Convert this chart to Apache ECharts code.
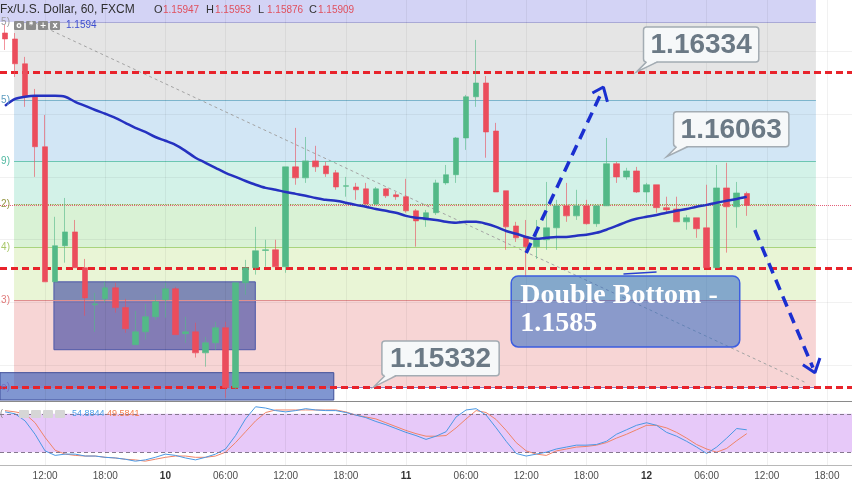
<!DOCTYPE html>
<html><head><meta charset="utf-8">
<script src="https://cdn.jsdelivr.net/npm/echarts/dist/echarts.min.js"></script>
<style>html,body{margin:0;padding:0;background:#fff}#c{width:852px;height:485px}</style>
</head><body><div id="c"></div>
<script>
// ---------- data ----------
const N_SLOTS = 85;                         // hourly slots on the time axis
const categories = Array.from({length: N_SLOTS}, (_, i) => String(i));
const timeLabels = ['12:00','18:00','10','06:00','12:00','18:00','11','06:00','12:00','18:00','12','06:00','12:00','18:00'];
const LABEL_FIRST = 4, LABEL_STEP = 6;

const open = [1.16458,1.16439,1.16360,1.16258,1.16096,1.15666,1.15781,1.15825,1.15711,1.15593,
1.15612,1.15647,1.15584,1.15466,1.15507,1.15555,1.15609,1.15644,1.15501,1.15507,
1.15440,1.15472,1.15520,1.15329,1.15663,1.15711,1.15766,1.15768,1.15714,1.16032,
1.15997,1.16051,1.16035,1.16013,1.15970,1.15968,1.15962,1.15914,1.15962,1.15943,
1.15937,1.15892,1.15863,1.15886,1.15981,1.16007,1.16124,1.16255,1.16299,1.16146,
1.15956,1.15844,1.15809,1.15778,1.15800,1.15838,1.15908,1.15876,1.15908,1.15851,
1.15908,1.16042,1.16000,1.16019,1.15952,1.15975,1.15902,1.15898,1.15857,1.15870,
1.15838,1.15711,1.15965,1.15905,1.15947];
const close = [1.16439,1.16360,1.16255,1.16096,1.15666,1.15781,1.15825,1.15711,1.15615,1.15596,
1.15647,1.15584,1.15517,1.15507,1.15555,1.15603,1.15644,1.15498,1.15507,1.15440,
1.15472,1.15520,1.15329,1.15663,1.15711,1.15765,1.15768,1.15714,1.16032,1.15997,
1.16051,1.16032,1.16010,1.15968,1.15972,1.15959,1.15914,1.15962,1.15940,1.15937,
1.15892,1.15860,1.15886,1.15981,1.16007,1.16124,1.16255,1.16299,1.16143,1.15952,
1.15841,1.15806,1.15778,1.15800,1.15838,1.15908,1.15876,1.15908,1.15851,1.15908,
1.16042,1.16000,1.16019,1.15952,1.15975,1.15902,1.15895,1.15857,1.15870,1.15835,
1.15711,1.15965,1.15905,1.15949,1.15909];
const low = [1.16404,1.16318,1.16223,1.16000,1.15666,1.15666,1.15727,1.15711,1.15558,1.15507,
1.15600,1.15568,1.15504,1.15466,1.15482,1.15545,1.15552,1.15498,1.15472,1.15425,
1.15396,1.15450,1.15297,1.15323,1.15625,1.15689,1.15714,1.15714,1.15695,1.15975,
1.15981,1.16016,1.16000,1.15959,1.15937,1.15927,1.15911,1.15911,1.15933,1.15927,
1.15886,1.15778,1.15841,1.15879,1.15975,1.15981,1.16086,1.16223,1.16061,1.15952,
1.15768,1.15793,1.15682,1.15739,1.15768,1.15768,1.15857,1.15863,1.15848,1.15841,
1.15908,1.15981,1.15991,1.15949,1.15918,1.15886,1.15886,1.15857,1.15832,1.15806,
1.15711,1.15711,1.15759,1.15838,1.15876];
const high = [1.16484,1.16458,1.16382,1.16280,1.16197,1.15873,1.15933,1.15863,1.15739,1.15631,
1.15666,1.15663,1.15612,1.15574,1.15596,1.15625,1.15663,1.15650,1.15555,1.15536,
1.15491,1.15539,1.15539,1.15663,1.15736,1.15841,1.15800,1.15800,1.16032,1.16156,
1.16127,1.16099,1.16048,1.16022,1.16000,1.15981,1.15981,1.15968,1.15965,1.15952,
1.15994,1.15898,1.15895,1.15991,1.16038,1.16127,1.16261,1.16436,1.16321,1.16172,
1.15956,1.15857,1.15863,1.15863,1.15984,1.15927,1.15981,1.15959,1.15927,1.15908,
1.16124,1.16048,1.16029,1.16032,1.15981,1.15975,1.15937,1.15937,1.15879,1.15870,
1.15975,1.16038,1.16045,1.15984,1.15953];
const ma = [1.16226,1.16248,1.16255,1.16258,1.16258,1.16258,1.16255,1.16239,1.16226,1.16213,
1.16201,1.16188,1.16172,1.16156,1.16143,1.16127,1.16115,1.16102,1.16083,1.16061,
1.16045,1.16029,1.16013,1.16000,1.15987,1.15975,1.15965,1.15959,1.15952,1.15946,
1.15940,1.15933,1.15927,1.15924,1.15918,1.15911,1.15905,1.15898,1.15892,1.15886,
1.15876,1.15870,1.15867,1.15863,1.15857,1.15854,1.15857,1.15857,1.15851,1.15841,
1.15828,1.15819,1.15809,1.15803,1.15806,1.15809,1.15809,1.15813,1.15816,1.15822,
1.15832,1.15844,1.15857,1.15867,1.15873,1.15879,1.15886,1.15892,1.15898,1.15905,
1.15911,1.15918,1.15924,1.15930,1.15937];
const stochK = [83,80,69,48,22,15,17,17,14,14,12,11,9,6,8,12,17,15,11,8,
12,17,25,46,72,91,89,85,83,85,88,86,85,85,82,78,74,68,63,57,
51,46,40,45,52,75,86,88,78,58,37,18,14,17,20,25,28,31,31,32,
37,48,55,62,66,62,51,45,37,28,18,28,42,57,55];
const stochD = [85,83,80,66,43,23,17,15,14,14,12,11,9,8,6,9,12,14,14,12,
12,14,20,35,52,69,82,86,86,86,86,86,86,86,83,78,75,72,66,60,
54,49,45,45,46,58,72,85,82,71,54,35,22,17,15,22,25,28,29,31,
35,42,48,55,62,62,58,51,42,32,25,20,26,38,49];

const fibLevels = [1.15332, 1.15606, 1.15776, 1.15913, 1.16049, 1.16245, 1.16493];
const fibTags   = ['e)', '3)', '4)', '2)', '9)', '5)', '5)'];
const levelLines = [1.16334, 1.15708, 1.15332];
const lastPrice = 1.15909;
const gridPrices = [1.154, 1.156, 1.158, 1.160, 1.162, 1.164];
const ohlcText = [['O','1.15947'],['H','1.15953'],['L','1.15876'],['C','1.15909']];
const maText = '1.1594';
const stochText = ['54.8844', '49.5841'];

// ---------- style / layout ----------
const Y_MIN = 1.15290, Y_MAX = 1.16563;
const FIB_X0 = 0.9, FIB_X1 = 80.9;
const fibZoneColors = ['rgba(245,202,202,0.8)','rgba(227,242,204,0.8)','rgba(207,239,202,0.8)',
  'rgba(200,239,226,0.8)','rgba(199,224,242,0.8)','rgba(222,222,222,0.8)'];
const fibLineColors = ['#8c7cc0','#df8f8f','#a9d47e','#8f9a45','#6cc6b2','#7db5cc','#a9a9d6'];
const fibTagColors  = ['#7070c0','#e07a7a','#a8c868','#949640','#4fb8a0','#5b9bbf','#9a9a9a'];

const isTick = i => i >= LABEL_FIRST && (i - LABEL_FIRST) % LABEL_STEP === 0;
const tickIdx = timeLabels.map((_, k) => LABEL_FIRST + k * LABEL_STEP);

const candleData = open.map((o, i) => [o, close[i], low[i], high[i]]);

const zones = [];
for (let k = 0; k < 6; k++) {
  zones.push([{xAxis: FIB_X0, yAxis: fibLevels[k], itemStyle: {color: fibZoneColors[k]}},
              {xAxis: FIB_X1, yAxis: fibLevels[k + 1]}]);
}
zones.push([{xAxis: -0.5, yAxis: fibLevels[6], itemStyle: {color: 'rgba(203,203,243,0.85)'}},
            {xAxis: FIB_X1, yAxis: Y_MAX}]);
const fibLineData = fibLevels.map((lv, k) => [
  {coord: [FIB_X0, lv], lineStyle: {color: fibLineColors[k], width: 1.2, type: k === 3 ? 'dotted' : 'solid'}},
  {coord: [FIB_X1, lv]}]);

// annotations in (slot index, price)
const rects = [
  {a: [4.88, 1.15666], b: [24.97, 1.15450], fill: 'rgba(55,65,160,0.6)', border: '#4d58a8'},
  {a: [-0.5, 1.15377], b: [32.8, Y_MIN], fill: 'rgba(50,85,180,0.62)', border: '#3f4f9a'}
];
const trendLine = [[3.0, 1.16490], [79.9, 1.15345]];
const arrowUp = [[52.0, 1.15758], [59.4, 1.16261]];
const arrowUpHead = [[58.6, 1.16267], [59.7, 1.16286], [60.1, 1.16239]];
const arrowDown = [[74.8, 1.15831], [80.6, 1.15393]];
const arrowDownHead = [[79.6, 1.15402], [80.8, 1.15377], [81.3, 1.15424]];
const dbLink = [[61.7, 1.15691], [65.0, 1.15697]];
const callouts = [
  {text: '1.16334', box: [63.7, 1.16477, 75.2, 1.16366], tip: [63.0, 1.16334]},
  {text: '1.16063', box: [66.7, 1.16207, 78.2, 1.16096], tip: [66.0, 1.16064]},
  {text: '1.15332', box: [37.6, 1.15478, 49.3, 1.15367], tip: [36.8, 1.15332]}
];
const dbBox = {text: 'Double Bottom -\n1.1585', box: [50.5, 1.15685, 73.3, 1.15459]};

const blue = '#1b2fd0';
function lineSeries(data, style, z) {
  return {type: 'line', xAxisIndex: 2, yAxisIndex: 0, data, symbol: 'none', silent: true,
    lineStyle: style, z: z || 8, animation: false};
}
const ML = {silent: true, symbol: ['none', 'none'], label: {show: false}, precision: 6};

const chart = echarts.init(document.getElementById('c'));
chart.setOption({
  animation: false,
  grid: [{left: -2, width: 854, top: 0, height: 400}, {left: -2, width: 854, top: 401, height: 64}],
  xAxis: [
    {type: 'category', gridIndex: 0, data: categories, boundaryGap: true, axisLine: {show: false},
      axisTick: {show: false}, axisLabel: {show: false}, splitLine: {show: false}},
    {type: 'category', gridIndex: 1, data: categories, boundaryGap: true,
      axisLine: {show: true, lineStyle: {color: '#b8b8b8'}}, axisTick: {show: false},
      axisLabel: {interval: i => isTick(i), color: '#4d4d4d', fontSize: 10, margin: 6,
        fontFamily: 'Liberation Sans',
        formatter: (v, i) => {
          const t = timeLabels[(i - LABEL_FIRST) / LABEL_STEP];
          if (t === undefined) return '';
          return t.indexOf(':') >= 0 ? t : '{d|' + t + '}';
        },
        rich: {d: {fontWeight: 'bold', fontSize: 10, color: '#333', fontFamily: 'Liberation Sans'}}},
      splitLine: {show: false}},
    {type: 'value', gridIndex: 0, min: -0.5, max: N_SLOTS - 0.5, show: false},
    {type: 'value', gridIndex: 1, min: -0.5, max: N_SLOTS - 0.5, show: false}
  ],
  yAxis: [
    {type: 'value', gridIndex: 0, min: Y_MIN, max: Y_MAX, show: false, splitLine: {show: false}},
    {type: 'value', gridIndex: 1, min: 0, max: 100, show: false, splitLine: {show: false}}
  ],
  series: [
    {type: 'line', xAxisIndex: 2, yAxisIndex: 0, data: [], z: 1, silent: true,
      markArea: {silent: true, data: zones},
      markLine: Object.assign({}, ML, {data: fibLineData})},
    {type: 'line', xAxisIndex: 2, yAxisIndex: 0, data: [], z: 2, silent: true,
      markLine: Object.assign({}, ML, {
        lineStyle: {color: 'rgba(0,0,0,0.055)', width: 1, type: 'solid'},
        data: gridPrices.map(p => ({yAxis: p})).concat(tickIdx.map(i => ({xAxis: i})))})},
    {type: 'line', xAxisIndex: 2, yAxisIndex: 0, data: [], z: 2.5, silent: true,
      markLine: Object.assign({}, ML, {
        data: [{yAxis: lastPrice, lineStyle: {color: '#e4607a', width: 1, type: 'dotted'}}]
          .concat(levelLines.map(p => ({yAxis: p, lineStyle: {color: '#e8232b', width: 3, type: [7, 4]}})))})},
    {type: 'line', xAxisIndex: 2, yAxisIndex: 0, data: [], z: 3, silent: true,
      markArea: {silent: true, data: rects.map(r => [
        {xAxis: r.a[0], yAxis: r.a[1], itemStyle: {color: r.fill, borderColor: r.border, borderWidth: 1}},
        {xAxis: r.b[0], yAxis: r.b[1]}])}},
    lineSeries(trendLine, {color: '#a3a3a3', width: 1, type: [3, 3]}, 4),
    {type: 'candlestick', xAxisIndex: 0, yAxisIndex: 0, data: candleData, barWidth: 6, z: 5,
      itemStyle: {color: '#53b987', color0: '#eb4d5c',
        borderColor: 'rgba(83,185,135,0.6)', borderColor0: 'rgba(235,77,92,0.6)', borderWidth: 1}},
    {type: 'line', xAxisIndex: 0, yAxisIndex: 0, data: ma, symbol: 'none', smooth: 0.3, z: 6,
      lineStyle: {color: '#2531c0', width: 2.5}},
    lineSeries(arrowUp, {color: blue, width: 3.5, type: [11, 7]}),
    lineSeries(arrowUpHead, {color: blue, width: 3}),
    lineSeries(arrowDown, {color: blue, width: 3.5, type: [11, 7]}),
    lineSeries(arrowDownHead, {color: blue, width: 3}),
    lineSeries(dbLink, {color: '#2a3fd0', width: 1.5}),
    // oscillator pane
    {type: 'line', xAxisIndex: 3, yAxisIndex: 1, data: [], z: 1, silent: true,
      markArea: {silent: true, data: [[{yAxis: 20, itemStyle: {color: '#e7c9f9'}}, {yAxis: 80}]]},
      markLine: Object.assign({}, ML, {
        data: [{yAxis: 20, lineStyle: {color: '#85778f', width: 1, type: [4, 3]}},
               {yAxis: 80, lineStyle: {color: '#85778f', width: 1, type: [4, 3]}},
               {yAxis: 100, lineStyle: {color: '#8a8a8a', width: 1, type: 'solid'}}]
          .concat(tickIdx.map(i => ({xAxis: i, lineStyle: {color: 'rgba(0,0,0,0.06)', width: 1, type: 'solid'}})))})},
    {type: 'line', xAxisIndex: 1, yAxisIndex: 1, data: stochK, symbol: 'none', z: 4,
      lineStyle: {color: '#4a98e4', width: 1}},
    {type: 'line', xAxisIndex: 1, yAxisIndex: 1, data: stochD, symbol: 'none', z: 3,
      lineStyle: {color: '#f08468', width: 1}}
  ]
});

// ---------- annotations anchored through the axes ----------
const px = (i, p) => chart.convertToPixel({xAxisIndex: 2, yAxisIndex: 0}, [i, p]);
const g = [];
function txt(x, y, text, font, fill, align, z) {
  return {type: 'text', x, y, z: z || 120, silent: true,
    style: {text, font, fill, textAlign: align || 'left', textVerticalAlign: 'middle',
      align: align || 'left', verticalAlign: 'middle'}};
}
callouts.forEach(c => {
  const a = px(c.box[0], c.box[1]), b = px(c.box[2], c.box[3]), t = px(c.tip[0], c.tip[1]);
  const L = a[0], T = a[1], W = b[0] - a[0], H = b[1] - a[1];
  g.push({type: 'rect', z: 100, shape: {x: L, y: T, width: W, height: H, r: 3},
    style: {fill: '#f6f8f9', stroke: '#a3acb3', lineWidth: 1.5}});
  g.push({type: 'polygon', z: 101, shape: {points: [[L + 3, T + H - 1], t, [L + 14, T + H - 1]]},
    style: {fill: '#f6f8f9'}});
  g.push({type: 'polyline', z: 101, shape: {points: [[L + 3, T + H], t, [L + 14, T + H]]},
    style: {stroke: '#a3acb3', lineWidth: 1.5, fill: null}});
  g.push(txt(L + W / 2, T + H / 2 + 1, c.text, 'bold 28px "Liberation Sans"', '#6b7985', 'center', 102));
});
{
  const a = px(dbBox.box[0], dbBox.box[1]), b = px(dbBox.box[2], dbBox.box[3]);
  g.push({type: 'rect', z: 100, shape: {x: a[0], y: a[1], width: b[0] - a[0], height: b[1] - a[1], r: 7},
    style: {fill: 'rgba(50,105,195,0.55)', stroke: '#3d5ee0', lineWidth: 1.5}});
  g.push({type: 'text', x: a[0] + 9, y: a[1] + 6, z: 102, silent: true,
    style: {text: dbBox.text, font: 'bold 28px "Liberation Serif"', fill: '#ffffff', lineHeight: 28,
      textAlign: 'left', textVerticalAlign: 'top', align: 'left', verticalAlign: 'top'}});
}
// fib tags at the left edge
fibLevels.forEach((lv, k) => {
  const y = px(0, lv)[1];
  g.push(txt(10, y, fibTags[k], '10px "Liberation Sans"', fibTagColors[k], 'right', k === 0 ? 90 : 120));
});
// header bar
g.push(txt(0, 10, 'Fx/U.S. Dollar, 60, FXCM', '12px "Liberation Sans"', '#2f2f2f'));
const ohlcX = [154, 206, 258, 309];
ohlcText.forEach((o, k) => {
  g.push(txt(ohlcX[k], 10, o[0], '11px "Liberation Sans"', '#333'));
  g.push(txt(ohlcX[k] + 9, 10, o[1], '10px "Liberation Sans"', '#e0505e'));
});
const icons = ['o', '*', '+', 'x'];
icons.forEach((s, k) => {
  g.push({type: 'rect', z: 110, shape: {x: 14 + 12 * k, y: 21, width: 10, height: 9, r: 1}, style: {fill: '#8c8c8c'}});
  g.push(txt(19 + 12 * k, 25.5, s, 'bold 8px "DejaVu Sans"', '#fff', 'center', 111));
  g.push({type: 'rect', z: 110, shape: {x: 19 + 12 * k, y: 410, width: 10, height: 8, r: 1}, style: {fill: '#d6d6d6'}});
});
g.push(txt(66, 25.5, maText, '10px "Liberation Sans"', '#3f4fd0'));
g.push(txt(0, 414, '(', '9px "Liberation Sans"', '#888'));
g.push(txt(72, 414, stochText[0], '9px "Liberation Sans"', '#4a9de8'));
g.push(txt(107, 414, stochText[1], '9px "Liberation Sans"', '#f27a4a'));
chart.setOption({graphic: {elements: g}});
</script>
</body></html>
